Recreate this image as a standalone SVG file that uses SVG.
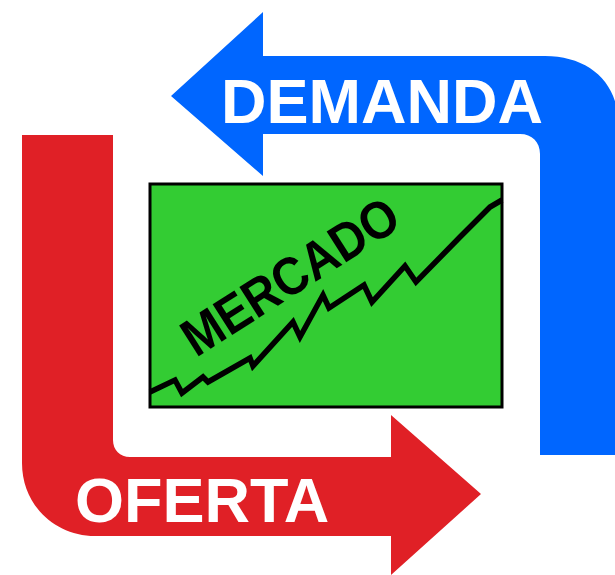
<svg xmlns="http://www.w3.org/2000/svg" width="615" height="575" viewBox="0 0 615 575">
<style>
.lbl{font-family:"Liberation Sans",Arial,sans-serif;font-weight:bold;}
.white{fill:#FFFFFF;font-size:63px;}
</style>
<rect width="615" height="575" fill="#FFFFFF"/>
<g id="connectors">
<g id="demanda">
<path d="M 171 96 L 263 12 L 263 56 L 545 56 C 588 56 618 82 618 122 L 618 455 L 540 455 L 540 154 C 540 142 532 134 520 134 L 263 134 L 263 176 Z" fill="#0066FF"/>
<text class="lbl white" x="221" y="123">DEMANDA</text>
</g>
<g id="oferta">
<path d="M 22 135 L 113 135 L 113 440 C 113 450 120 457 130 457 L 391 457 L 391 415 L 481 494 L 391 575 L 391 536 L 95 536 C 55 536 22 505 22 463 Z" fill="#E02026"/>
<text class="lbl white" x="75" y="522">OFERTA</text>
</g>
</g>
<g id="mercado">
<rect x="150" y="184" width="352" height="223" fill="#33CC33" stroke="#000000" stroke-width="3"/>
<polyline points="150,392 175,380 182,393 203,377 208,382 250,358 253,366 293,322 300,337 323,295 329,308 364,285 372,302 405,266 416,282 460,237 490,207 502,200" fill="none" stroke="#000000" stroke-width="5.5" stroke-linejoin="miter"/>
<text class="lbl" x="0" y="0" font-size="53" fill="#000000" transform="translate(196,358) rotate(-32.5) scale(0.9,1)">MERCADO</text>
</g>
</svg>
